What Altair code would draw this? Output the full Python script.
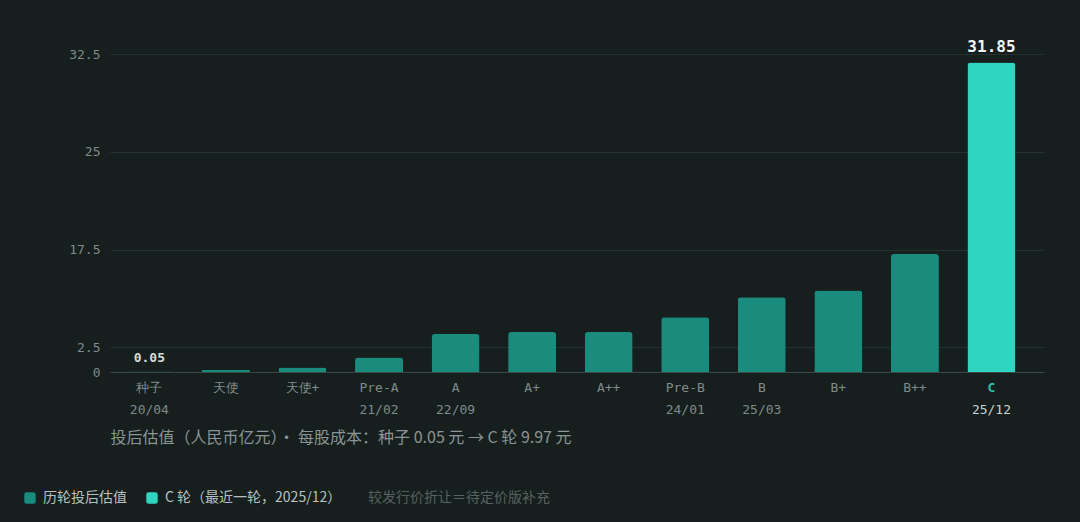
import altair as alt
import pandas as pd

# ---- data ----
rounds = ["种子", "天使", "天使+", "Pre-A", "A", "A+", "A++", "Pre-B", "B", "B+", "B++", "C"]
dates = ["20/04", "", "", "21/02", "22/09", "", "", "24/01", "25/03", "", "", "25/12"]
values = [0.05, 0.23, 0.46, 1.46, 4.5, 4.8, 4.8, 7.07, 10.15, 11.2, 16.8, 31.85]
value_labels = ["0.05", "", "", "", "", "", "", "", "", "", "", "31.85"]
series_names = ["历轮投后估值", "C 轮（最近一轮，2025/12）"]
series = [series_names[0]] * 11 + [series_names[1]]
y_ticks = [0, 2.5, 17.5, 25, 32.5]
axis_title = "投后估值（人民币亿元）· 每股成本：种子 0.05 元 → C 轮 9.97 元"
note_text = ["较发行价折让＝待定价版补充"]

df = pd.DataFrame({
    "round": rounds,
    "date": dates,
    "value": values,
    "vlabel": value_labels,
    "series": series,
})
note_df = pd.DataFrame({"t": note_text})

# ---- style ----
BG = "#161e1e"
MONO = "DejaVu Sans Mono"
CJK = "Noto Sans CJK SC"
W, H = 934, 318
y_range = [318, 293, 195.5, 97.5, 0]  # piecewise scale layout (pixels)

# make the page background match the chart background (no white margin)
try:
    import altair.utils.html as _ah

    class _BgTemplate:
        def __init__(self, t):
            self.t = t

        def render(self, *a, **k):
            html = self.t.render(*a, **k)
            return html.replace(
                "<head>", "<head>\n<style>html,body{background:%s;}</style>" % BG, 1
            )

    for _k in list(_ah.TEMPLATES.keys()):
        _ah.TEMPLATES[_k] = _BgTemplate(_ah.TEMPLATES[_k])
except Exception:
    pass

x_enc = alt.X(
    "round:N",
    sort=rounds,
    scale=alt.Scale(paddingInner=0.373, paddingOuter=0.287, align=0.35),
    axis=alt.Axis(
        title=axis_title,
        titleAnchor="start",
        titleAlign="left",
        titleBaseline="middle",
        titleX=0,
        titleY=65,
        titleFont=CJK,
        titleFontSize=16,
        titleFontWeight="normal",
        titleColor="#8a9594",
        labelAngle=0,
        labelFont=MONO,
        labelFontSize=13,
        labelColor=alt.condition("datum.value == 'C'", alt.value("#2ec4a8"), alt.value("#7f8b8a")),
        labelFontWeight=alt.condition("datum.value == 'C'", alt.value("bold"), alt.value("normal")),
        labelPadding=9,
        ticks=False,
        domainColor="#3a4646",
        grid=False,
    ),
)

y_enc = alt.Y(
    "value:Q",
    scale=alt.Scale(domain=y_ticks, range=y_range, nice=False, zero=False),
    axis=alt.Axis(
        values=y_ticks,
        labelExpr="'' + datum.value",
        title=None,
        domain=False,
        ticks=False,
        gridColor="#263131",
        labelPadding=10,
        labelFont=MONO,
        labelFontSize=13,
        labelColor="#7f8b8a",
    ),
)

rounded_sq = "M-0.6,-1H0.6Q1,-1,1,-0.6V0.6Q1,1,0.6,1H-0.6Q-1,1,-1,0.6V-0.6Q-1,-1,-0.6,-1Z"

bars = alt.Chart(df).mark_bar(cornerRadiusTopLeft=3, cornerRadiusTopRight=3).encode(
    x=x_enc,
    y=y_enc,
    color=alt.Color(
        "series:N",
        scale=alt.Scale(domain=series_names, range=["#1a8c7e", "#2fd5c0"]),
        legend=alt.Legend(
            orient="none",
            legendX=-87,
            legendY=437,
            direction="horizontal",
            title=None,
            symbolType=rounded_sq,
            symbolSize=130,
            symbolStrokeWidth=0,
            labelFont=CJK,
            labelFontSize=14,
            labelColor="#b8c1c0",
            labelOffset=6,
            labelLimit=0,
            columnPadding=18,
        ),
    ),
)

value_text = alt.Chart(df).transform_filter("datum.vlabel != ''").mark_text(
    font=MONO, fontWeight="bold", baseline="bottom", dy=-7
).encode(
    x=alt.X("round:N", sort=rounds),
    y=alt.Y("value:Q"),
    text="vlabel:N",
    size=alt.condition("datum.round == 'C'", alt.value(16), alt.value(13)),
    color=alt.condition("datum.round == 'C'", alt.value("#f2f5f5"), alt.value("#d5dbda")),
)

date_text = alt.Chart(df).mark_text(font=MONO, fontSize=13, baseline="middle").encode(
    x=alt.X("round:N", sort=rounds),
    y=alt.value(H + 38),
    text="date:N",
    color=alt.condition("datum.round == 'C'", alt.value("#c9d1d0"), alt.value("#7f8b8a")),
)

note = alt.Chart(note_df).mark_text(
    font=CJK, fontSize=14, align="left", baseline="middle", color="#56625f"
).encode(
    x=alt.value(258),
    y=alt.value(444),
    text="t:N",
)

chart = alt.layer(bars, value_text, date_text, note).properties(
    width=W,
    height=H,
    background=BG,
    padding={"left": 102, "top": 46, "right": 28, "bottom": 142},
    autosize=alt.AutoSizeParams(type="none"),
).configure_view(stroke=None)

chart.save("out.html", embed_options={"renderer": "svg", "actions": False})
